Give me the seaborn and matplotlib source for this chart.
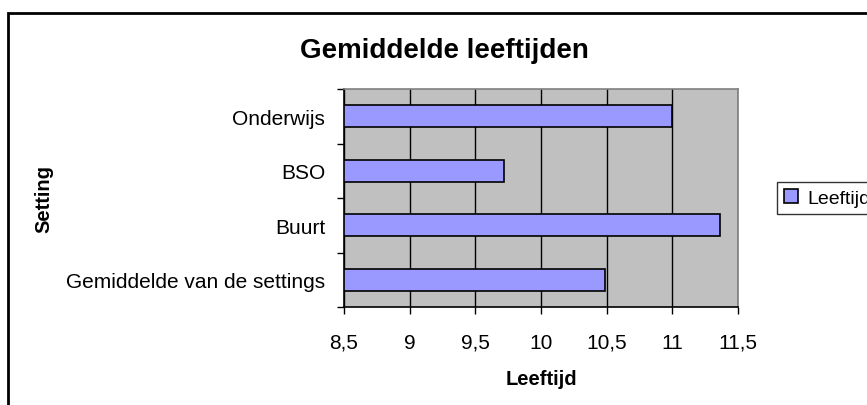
import matplotlib
matplotlib.use("Agg")
import matplotlib.pyplot as plt
import matplotlib.patches as mpatches
from matplotlib.ticker import FuncFormatter, FixedLocator
import seaborn as sns
import pandas as pd

categories = ["Onderwijs", "BSO", "Buurt", "Gemiddelde van de settings"]
leeftijd = [11.0, 9.72, 11.36, 10.49]
x_ticks = [8.5, 9, 9.5, 10, 10.5, 11, 11.5]
series_name = "Leeftijd"

sns.set_theme(style="white")
plt.rcParams["font.family"] = ["Liberation Sans", "DejaVu Sans"]
plt.rcParams.update({"text.color": "black", "axes.labelcolor": "black",
                     "xtick.color": "black", "ytick.color": "black"})

df = pd.DataFrame({"Setting": categories, "Leeftijd": leeftijd})

W, H = 867, 406
fig = plt.figure(figsize=(W / 100, H / 100), dpi=100)
fig.patch.set_facecolor("white")
ax = fig.add_axes([344 / W, 1 - 308 / H, (738 - 344) / W, (308 - 90) / H])
ax.set_facecolor("#C0C0C0")

sns.barplot(data=df, y="Setting", x="Leeftijd", orient="h", color="#9999FF",
            saturation=1, edgecolor="black", linewidth=1.2, width=0.41, ax=ax,
            label=series_name)

ax.set_xlim(8.5, 11.5)
ax.set_ylim(3.5, -0.5)
ax.set_xticks(x_ticks)
ax.xaxis.set_major_formatter(FuncFormatter(lambda v, p: ("%g" % v).replace(".", ",")))
ax.set_axisbelow(True)
ax.grid(axis="x", color="black", linewidth=1)
ax.grid(axis="y", visible=False)

# category boundary ticks on y axis
ax.yaxis.set_minor_locator(FixedLocator([-0.5, 0.5, 1.5, 2.5, 3.5]))
ax.tick_params(axis="y", which="major", length=0, labelsize=15, pad=13.5, labelcolor="black")
ax.tick_params(axis="y", which="minor", length=5, width=1, color="black", direction="out", left=True)
ax.tick_params(axis="x", which="major", length=5, width=1, color="black", direction="out",
               bottom=True, labelsize=15, pad=13.5, labelcolor="black")

for s in ["left", "bottom"]:
    ax.spines[s].set_color("black")
    ax.spines[s].set_linewidth(1.2)
for s in ["top", "right"]:
    ax.spines[s].set_color("#808080")
    ax.spines[s].set_linewidth(1.2)

ax.set_xlabel("Leeftijd", fontsize=14.5, fontweight="bold", color="black")
ax.xaxis.set_label_coords(0.5, (308 - 380) / 218)
ax.xaxis.label.set_va("center")
ax.set_ylabel("Setting", fontsize=14.5, fontweight="bold", color="black")
ax.yaxis.set_label_coords(-(344 - 44) / 394, 0.5)
ax.yaxis.label.set_va("center")

fig.text(444 / W, 1 - 58 / H, "Gemiddelde leeftijden", ha="center", va="baseline",
         fontsize=20, fontweight="bold", color="black")

leg = ax.legend(loc="upper left", bbox_to_anchor=(777 / W, 1 - 183 / H),
                bbox_transform=fig.transFigure, frameon=True, fancybox=False,
                fontsize=14, handlelength=0.75, handleheight=0.75, handletextpad=0.45,
                borderpad=0.35, borderaxespad=0)
leg.get_frame().set_edgecolor("black")
leg.get_frame().set_linewidth(1)
for t in leg.get_texts():
    t.set_color("black")

frame = mpatches.Rectangle((8 / W, -0.2), 1.2, 1.2 - 14 / H, transform=fig.transFigure,
                           fill=False, edgecolor="black", linewidth=2, clip_on=False)
fig.patches.append(frame)

fig.savefig("out.png", dpi=100)
